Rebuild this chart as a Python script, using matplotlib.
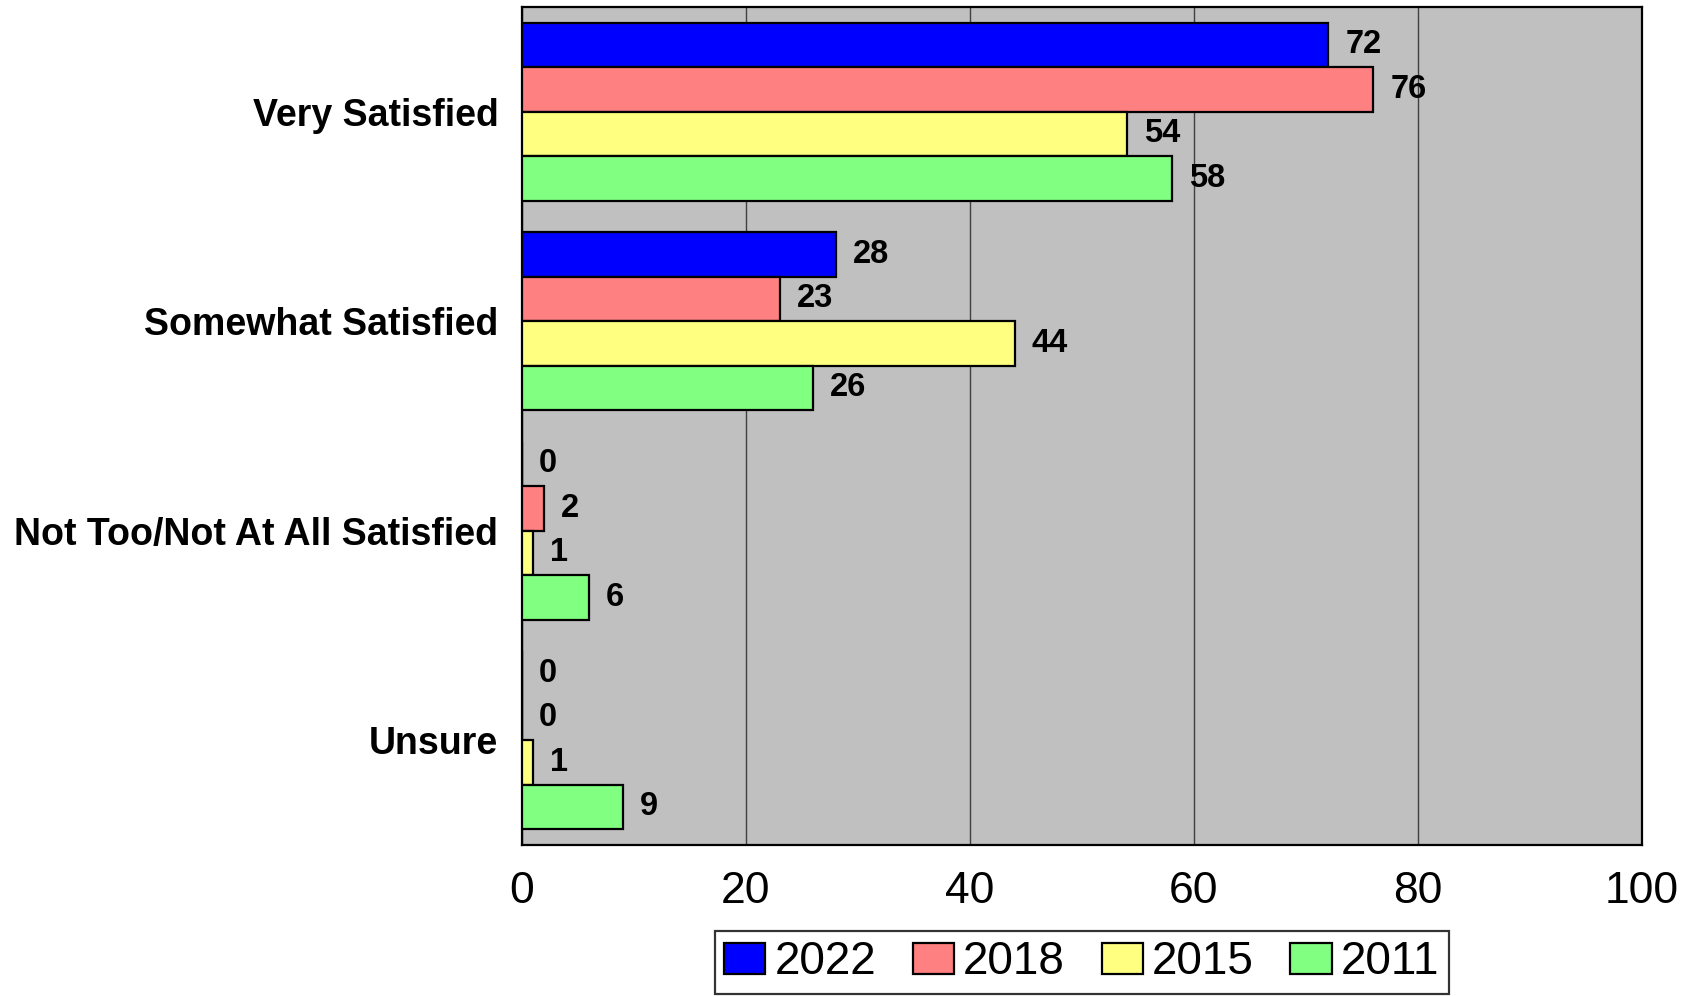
import numpy as np
import matplotlib.pyplot as plt

plt.rcParams["font.family"] = ["Liberation Sans", "DejaVu Sans"]

categories = ["Very Satisfied", "Somewhat Satisfied", "Not Too/Not At All Satisfied", "Unsure"]
years = ["2022", "2018", "2015", "2011"]
vals_2022 = [72, 28, 0, 0]
vals_2018 = [76, 23, 2, 0]
vals_2015 = [54, 44, 1, 1]
vals_2011 = [58, 26, 6, 9]
colors = ["#0000ff", "#ff8080", "#ffff80", "#80ff80"]

series = [vals_2022, vals_2018, vals_2015, vals_2011]

fig = plt.figure(figsize=(16.98, 9.97), dpi=100)
ax = fig.add_axes([0.3074, 0.1525, 0.6596, 0.8405])
ax.set_facecolor("#c0c0c0")

n = len(series)
h = 0.85 / n
y = np.arange(len(categories))
for i, (vals, c, yr) in enumerate(zip(series, colors, years)):
	pos = y - 0.425 + h * (i + 0.5)
	ax.barh(pos, vals, height=h, color=c, edgecolor="black", linewidth=1.6, label=yr, zorder=3)
	for p, v in zip(pos, vals):
		ax.annotate(f"{v}", (v, p), xytext=(17, 0), textcoords="offset pixels",
			va="center", ha="left", fontsize=23.5, fontweight="bold", zorder=4)

ax.set_xlim(0, 100)
ax.set_ylim(len(categories) - 0.5, -0.5)
ax.set_xticks(np.arange(0, 101, 20))
ax.set_yticks(y)
ax.set_yticklabels(categories, fontsize=27, fontweight="bold")
ax.tick_params(axis="both", length=0)
ax.tick_params(axis="y", pad=17)
ax.tick_params(axis="x", pad=19, labelsize=32)
ax.grid(axis="x", color="#404040", linewidth=1, zorder=1)
for s in ax.spines.values():
	s.set_linewidth(1.6)

leg = ax.legend(loc="upper center", bbox_to_anchor=(0.637, 0.066), bbox_transform=fig.transFigure,
	ncol=4, fontsize=33, frameon=True, fancybox=False, edgecolor="black", borderaxespad=0,
	handlelength=0.9, handleheight=0.65, handletextpad=0.2, columnspacing=0.8, borderpad=0.2)
leg.get_frame().set_linewidth(1.6)

plt.savefig("out.png", dpi=100)
